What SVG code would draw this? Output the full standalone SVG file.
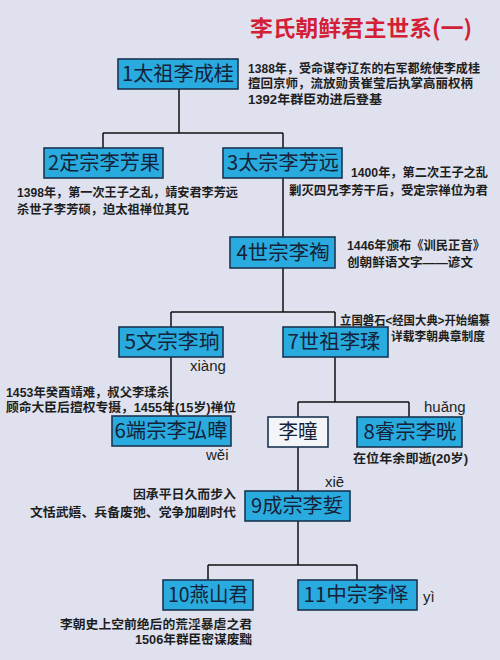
<svg xmlns="http://www.w3.org/2000/svg" width="500" height="660" viewBox="0 0 500 660">
<style>
.bg{fill:#dfe2ee}
.box{fill:#29abdf;stroke:#1b3550;stroke-width:1.6}
.wbox{fill:#f4f5f9;stroke:#1b3550;stroke-width:1.6}
.nt{font-family:"Noto Sans CJK SC",sans-serif;font-size:20px;fill:#152238;text-anchor:middle}
.an{font-family:"Liberation Sans","Noto Sans CJK SC",sans-serif;font-size:12.5px;font-weight:bold;fill:#1e1e1e}
.an2{font-family:"Liberation Sans","Noto Sans CJK SC",sans-serif;font-size:12px;font-weight:bold;fill:#1e1e1e}
.py{font-family:"Liberation Sans","DejaVu Sans",sans-serif;font-size:15px;fill:#1e1e1e}
.title{font-family:"Noto Sans CJK SC",sans-serif;font-size:22px;font-weight:bold;fill:#d42036}
.ln{stroke:#111;stroke-width:1.5;fill:none}
</style>
<rect class="bg" x="0" y="0" width="500" height="660"/>
<text class="title" x="250" y="36" textLength="222" lengthAdjust="spacingAndGlyphs">李氏朝鲜君主世系(一)</text>

<g id="connectors">
<path class="ln" d="M179 89V133M103 133H283M103 133V148M283 133V148M283 178V237M283 268V312M171 312H335M171 312V327M335 312V327M171 357V416M335 357V402M298 402H409M298 402V417M409 402V417M298 447V491M298 521V565M208 565H357M208 565V580M357 565V580"/>
</g>

<g id="n1"><rect class="box" x="118" y="59" width="120" height="30"/><text class="nt" x="178" y="81" textLength="112" lengthAdjust="spacingAndGlyphs">1太祖李成桂</text></g>
<g id="n2"><rect class="box" x="44" y="148" width="119" height="30"/><text class="nt" x="104" y="170" textLength="112" lengthAdjust="spacingAndGlyphs">2定宗李芳果</text></g>
<g id="n3"><rect class="box" x="223" y="148" width="119" height="30"/><text class="nt" x="283" y="170" textLength="112" lengthAdjust="spacingAndGlyphs">3太宗李芳远</text></g>
<g id="n4"><rect class="box" x="230" y="237" width="105" height="31"/><text class="nt" x="283" y="260" textLength="93" lengthAdjust="spacingAndGlyphs">4世宗李祹</text></g>
<g id="n5"><rect class="box" x="119" y="327" width="104" height="30"/><text class="nt" x="172" y="349" textLength="95" lengthAdjust="spacingAndGlyphs">5文宗李珦</text></g>
<g id="n7"><rect class="box" x="283" y="327" width="105" height="30"/><text class="nt" x="334" y="349" textLength="93" lengthAdjust="spacingAndGlyphs">7世祖李瑈</text></g>
<g id="n6"><rect class="box" x="112" y="416" width="119" height="30"/><text class="nt" x="171" y="438" textLength="113" lengthAdjust="spacingAndGlyphs">6端宗李弘暐</text></g>
<g id="nli"><rect class="wbox" x="268" y="417" width="60" height="30"/><text class="nt" x="298" y="439" textLength="39" lengthAdjust="spacingAndGlyphs">李曈</text></g>
<g id="n8"><rect class="box" x="357" y="417" width="105" height="30"/><text class="nt" x="410" y="439" textLength="93" lengthAdjust="spacingAndGlyphs">8睿宗李晄</text></g>
<g id="n9"><rect class="box" x="245" y="491" width="105" height="30"/><text class="nt" x="297" y="513" textLength="92" lengthAdjust="spacingAndGlyphs">9成宗李娎</text></g>
<g id="n10"><rect class="box" x="163" y="580" width="90" height="30"/><text class="nt" x="208" y="602" textLength="80" lengthAdjust="spacingAndGlyphs">10燕山君</text></g>
<g id="n11"><rect class="box" x="298" y="580" width="119" height="30"/><text class="nt" x="356" y="602" textLength="105" lengthAdjust="spacingAndGlyphs">11中宗李怿</text></g>

<g id="annotations">
<text class="an" x="248" y="73" textLength="232" lengthAdjust="spacingAndGlyphs">1388年，受命谋夺辽东的右军都统使李成桂</text>
<text class="an" x="248" y="88" textLength="225" lengthAdjust="spacingAndGlyphs">擅回京师，流放勋贵崔莹后执掌高丽权柄</text>
<text class="an" x="248" y="104" textLength="134" lengthAdjust="spacingAndGlyphs">1392年群臣劝进后登基</text>
<text class="an" x="17" y="197" textLength="221" lengthAdjust="spacingAndGlyphs">1398年，第一次王子之乱，靖安君李芳远</text>
<text class="an" x="17" y="214" textLength="172" lengthAdjust="spacingAndGlyphs">杀世子李芳硕，迫太祖禅位其兄</text>
<text class="an" x="351" y="177" textLength="137" lengthAdjust="spacingAndGlyphs">1400年，第二次王子之乱</text>
<text class="an" x="289" y="195" textLength="199" lengthAdjust="spacingAndGlyphs">剿灭四兄李芳干后，受定宗禅位为君</text>
<text class="an" x="347" y="250" textLength="138" lengthAdjust="spacingAndGlyphs">1446年颁布《训民正音》</text>
<text class="an" x="347" y="267" textLength="126" lengthAdjust="spacingAndGlyphs">创朝鲜语文字——谚文</text>
<text class="an2" x="340" y="325" textLength="150" lengthAdjust="spacingAndGlyphs">立国磐石&lt;经国大典&gt;开始编纂</text>
<text class="an" x="391" y="341" textLength="94" lengthAdjust="spacingAndGlyphs">详载李朝典章制度</text>
<text class="an" x="6" y="397" textLength="163" lengthAdjust="spacingAndGlyphs">1453年癸酉靖难，叔父李瑈杀</text>
<text class="an" x="6" y="412" textLength="230" lengthAdjust="spacingAndGlyphs">顾命大臣后擅权专摄，1455年(15岁)禅位</text>
<text class="an" x="353" y="463" textLength="115" lengthAdjust="spacingAndGlyphs">在位年余即逝(20岁)</text>
<text class="an" x="133" y="499" textLength="103" lengthAdjust="spacingAndGlyphs">因承平日久而步入</text>
<text class="an" x="30" y="517" textLength="206" lengthAdjust="spacingAndGlyphs">文恬武嬉、兵备废弛、党争加剧时代</text>
<text class="an" x="60" y="629" textLength="192" lengthAdjust="spacingAndGlyphs">李朝史上空前绝后的荒淫暴虐之君</text>
<text class="an" x="135" y="644" textLength="117" lengthAdjust="spacingAndGlyphs">1506年群臣密谋废黜</text>
<text class="py" x="190" y="371">xiàng</text>
<text class="py" x="424" y="412">huǎng</text>
<text class="py" x="206" y="460">wěi</text>
<text class="py" x="325" y="487">xiē</text>
<text class="py" x="423" y="602">yì</text>
</g>
</svg>
